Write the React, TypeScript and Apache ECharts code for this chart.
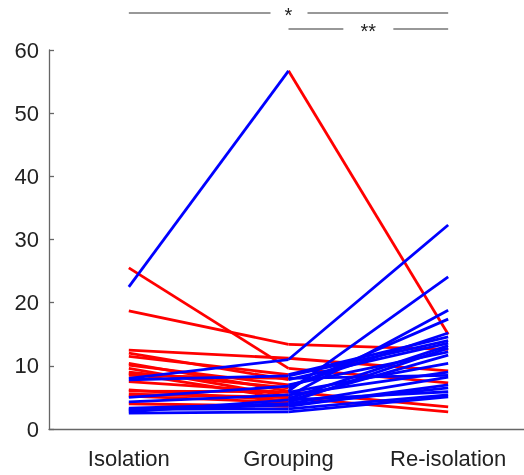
import React, { useEffect, useRef } from "react";
import * as echarts from "echarts";

const categories = ["Isolation", "Grouping", "Re-isolation"];
const isolation = [25.5, 22.5, 18.7, 12.5, 8.0, 12.0, 11.5, 10.4, 10.1, 9.6, 9.0, 8.8, 8.5, 7.8, 7.5, 6.2, 6.0, 5.5, 5.2, 5.0, 4.3, 4.0, 3.3, 3.0, 2.7, 2.5, 3.1];
const grouping = [9.6, 56.7, 13.4, 11.2, 11.0, 7.8, 8.6, 6.0, 7.0, 5.2, 6.5, 4.8, 8.0, 8.4, 5.8, 4.5, 5.9, 5.0, 4.2, 6.8, 5.4, 3.6, 4.0, 3.8, 4.6, 2.7, 3.2];
const reisolation = [7.3, 15.0, 12.6, 9.2, 32.3, 13.6, 14.6, 24.1, 12.2, 18.8, 17.4, 13.2, 8.5, 14.0, 10.4, 11.7, 3.5, 2.7, 12.8, 15.2, 9.0, 7.0, 8.2, 6.5, 5.9, 5.1, 5.4];
const yTicks = [0, 10, 20, 30, 40, 50, 60];
const sigLabels = ["*", "**"];

const RED = "#ff0000";
const BLUE = "#0000ff";
const FONT = "Liberation Sans, Arial, Helvetica, sans-serif";

export default function App() {
  const ref = useRef<HTMLDivElement>(null);
  useEffect(() => {
    if (!ref.current) return;
    const chart = echarts.init(ref.current, undefined, { renderer: "svg" });
    const series: any[] = [];
    for (let i = 0; i < isolation.length; i++) {
      const a = isolation[i], b = grouping[i], c = reisolation[i];
      series.push({
        type: "line", data: [a, b, "-"], symbol: "none", z: b > a ? 3 : 2,
        lineStyle: { color: b > a ? BLUE : RED, width: 2.8 },
      });
      series.push({
        type: "line", data: ["-", b, c], symbol: "none", z: c > b ? 3 : 2,
        lineStyle: { color: c > b ? BLUE : RED, width: 2.8 },
      });
    }
    const axisColor = "#666";
    chart.setOption({
      animation: false,
      grid: { left: 49, top: 50, width: 479, bottom: 46 },
      xAxis: {
        type: "category", data: categories, boundaryGap: true,
        axisLine: { lineStyle: { color: axisColor, width: 1.3 } },
        axisTick: { alignWithLabel: true, inside: true, length: 6, lineStyle: { color: axisColor, width: 1.3 } },
        axisLabel: { fontSize: 22, color: "#222", margin: 18, fontFamily: FONT },
      },
      yAxis: {
        type: "value", min: yTicks[0], max: yTicks[yTicks.length - 1], interval: 10,
        splitLine: { show: false },
        axisLine: { show: true, lineStyle: { color: axisColor, width: 1.3 } },
        axisTick: { show: true, inside: true, length: 5, lineStyle: { color: axisColor, width: 1.3 } },
        axisLabel: { fontSize: 22, color: "#222", margin: 10, fontFamily: FONT },
      },
      series,
    });
    const px = (i: number) => chart.convertToPixel({ xAxisIndex: 0 }, categories[i]) as number;
    const x1 = px(0), x2 = px(1), x3 = px(2);
    const lineStyle = { stroke: "#333", lineWidth: 1.2 };
    const textStyle = (t: string, x: number, y: number) => ({
      type: "text", x, y,
      style: { text: t, fontSize: 20, fill: "#222", align: "center", verticalAlign: "middle", fontFamily: FONT },
    });
    const m1 = x2;
    const m2 = (x2 + x3) / 2;
    chart.setOption({
      graphic: [
        { type: "line", shape: { x1: x1, y1: 13, x2: m1 - 18, y2: 13 }, style: lineStyle },
        { type: "line", shape: { x1: m1 + 19, y1: 13, x2: x3, y2: 13 }, style: lineStyle },
        textStyle(sigLabels[0], m1, 14.5),
        { type: "line", shape: { x1: x2, y1: 29, x2: m2 - 25, y2: 29 }, style: lineStyle },
        { type: "line", shape: { x1: m2 + 25, y1: 29, x2: x3, y2: 29 }, style: lineStyle },
        textStyle(sigLabels[1], m2, 30.5),
      ],
    });
    return () => chart.dispose();
  }, []);
  return <div ref={ref} style={{ position: "fixed", left: 0, top: 0, width: 540, height: 475 }} />;
}
